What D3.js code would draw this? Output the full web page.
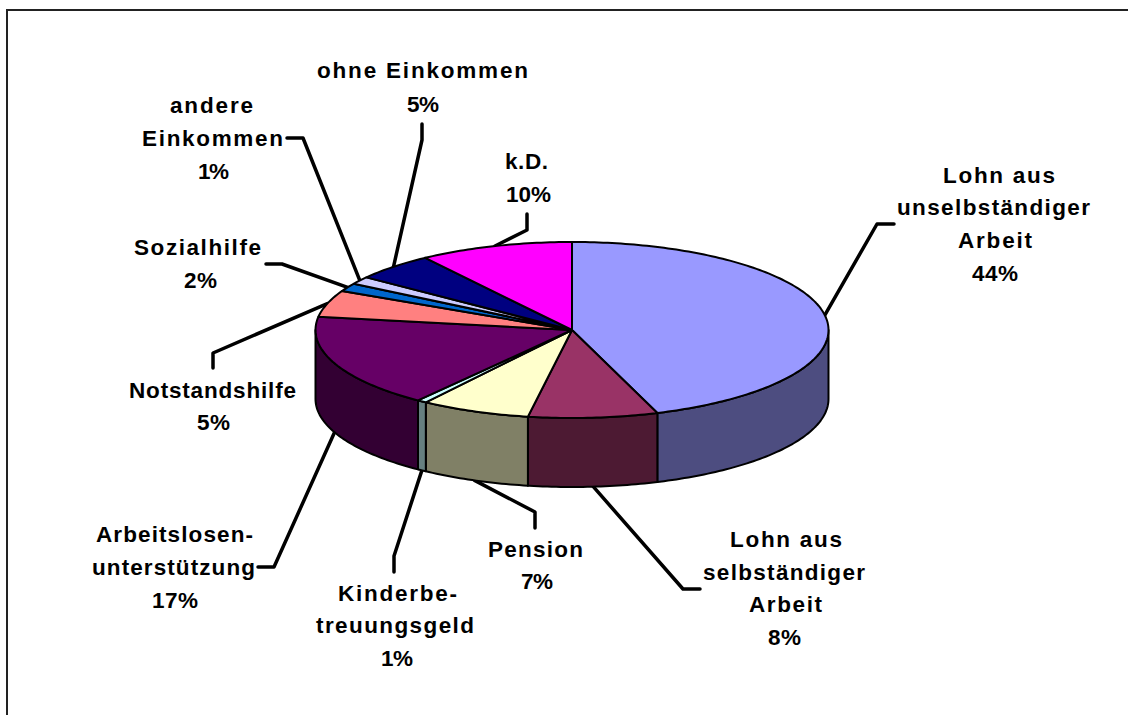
<!DOCTYPE html>
<html>
<head>
<meta charset="utf-8">
<script src="https://cdn.jsdelivr.net/npm/d3@7"></script>
<style>
html,body{margin:0;padding:0;background:#fff;overflow:hidden}
svg{display:block}
text{font-family:"Liberation Sans",Arial,sans-serif;font-weight:700;font-size:22.5px;fill:#000}
</style>
</head>
<body>
<svg id="chart" width="1128" height="715"></svg>
<script>
// ---- data ----
const categories = ["Lohn aus unselbständiger Arbeit","Lohn aus selbständiger Arbeit","Pension","Kinderbetreuungsgeld","Arbeitslosenunterstützung","Notstandshilfe","Sozialhilfe","andere Einkommen","ohne Einkommen","k.D."];
const shares = [44.6, 8.15, 6.9, 0.6, 17.15, 4.9, 1.5, 1.4, 5.1, 9.7];
const labelLines = [
  ["Lohn aus","unselbständiger","Arbeit","44%"],
  ["Lohn aus","selbständiger","Arbeit","8%"],
  ["Pension","7%"],
  ["Kinderbe-","treuungsgeld","1%"],
  ["Arbeitslosen-","unterstützung","17%"],
  ["Notstandshilfe","5%"],
  ["Sozialhilfe","2%"],
  ["andere","Einkommen","1%"],
  ["ohne Einkommen","5%"],
  ["k.D.","10%"]
];
const topColors  = ["#9999FF","#993366","#FFFFCC","#CCFFFF","#660066","#FF8080","#0066CC","#CCCCFF","#000080","#FF00FF"];
const sideColors = ["#4D4D80","#4D1A33","#808066","#668080","#330033","#804040","#003366","#666680","#000040","#800080"];

// ---- layout (not data) ----
const cx = 572, cy = 330, rx = 256.5, ry = 88, depth = 69;
// one [left, right, baseline] per label line
const textBoxes = [
  [[943,1055,183],[897,1090,215],[958,1032,248],[972,1018,281]],
  [[730,842,547],[703,865,580],[749,822,612],[768,801,645]],
  [[488,583,557],[521,553,589]],
  [[338,457,601],[316,474,633],[381,413,666]],
  [[96,253,542],[92,255,575],[152,198,608]],
  [[129,296,398],[197,230,430]],
  [[134,261,255],[184,217,288]],
  [[170,253,113],[142,283,146],[198,229,179]],
  [[317,528,78],[407,439,112]],
  [[505,548,169],[506,551,202]]
];
// leader polyline: elbow then end, the start comes from the slice angle
const leaderBends = [
  [[877,224],[894,224]],
  [[683,589],[700,589]],
  [[535,512],[535,528]],
  [[394,556],[394,572]],
  [[274,567],[258,567]],
  [[213,353],[213,368]],
  [[282,264],[266,264]],
  [[303,138],[287,138]],
  [[422,140],[422,124]],
  [[527,230],[527,214]]
];

const svg = d3.select("#chart");
const xS = d3.scaleLinear().domain([-1,1]).range([cx-rx,cx+rx]);
const yS = d3.scaleLinear().domain([-1,1]).range([cy+ry,cy-ry]);
const px = a => xS(Math.sin(a));
const py = a => yS(Math.cos(a));
const line = d3.line();

const arcs = d3.pie().sort(null).value(d => d)(shares);
const STEP = Math.PI/180;
const samples = (a0,a1) => {
  const out = d3.range(a0,a1,STEP);
  out.push(a1);
  return out;
};
const isFront = a => Math.cos(a) < 0;

// frame
svg.append("path").attr("d","M7,715V10H1128").attr("fill","none").attr("stroke","#222").attr("stroke-width",2);

// leader lines
svg.append("g").selectAll("path").data(arcs).join("path")
  .attr("fill","none").attr("stroke","#000").attr("stroke-width",3.5)
  .attr("stroke-linejoin","round").attr("stroke-linecap","round")
  .attr("d",(d,i) => {
    const m = (d.startAngle+d.endAngle)/2;
    const start = [px(m), py(m)+(isFront(m)?depth:0)];
    return line([start,...leaderBends[i]]);
  });

// side walls, only the part that faces the viewer
svg.append("g").selectAll("path").data(arcs.filter(d => d.endAngle>Math.PI/2 && d.startAngle<3*Math.PI/2)).join("path")
  .attr("fill",d => sideColors[d.index]).attr("stroke","#000").attr("stroke-width",2).attr("stroke-linejoin","round")
  .attr("d",d => {
    const s = samples(Math.max(d.startAngle,Math.PI/2),Math.min(d.endAngle,3*Math.PI/2));
    const pts = s.map(a => [px(a),py(a)]).concat(s.slice().reverse().map(a => [px(a),py(a)+depth]));
    return line(pts)+"Z";
  });

// top faces
svg.append("g").selectAll("path").data(arcs).join("path")
  .attr("fill",d => topColors[d.index]).attr("stroke","#000").attr("stroke-width",2).attr("stroke-linejoin","round")
  .attr("d",d => line([[xS(0),yS(0)],...samples(d.startAngle,d.endAngle).map(a => [px(a),py(a)])])+"Z");

// labels, stretched to the measured width of each line
const labelG = svg.append("g");
labelLines.forEach((lines,i) => {
  lines.forEach((t,j) => {
    const [l,r,b] = textBoxes[i][j];
    labelG.append("text").attr("x",l).attr("y",b)
      .attr("textLength",r-l).attr("lengthAdjust","spacing").text(t);
  });
});
</script>
</body>
</html>
